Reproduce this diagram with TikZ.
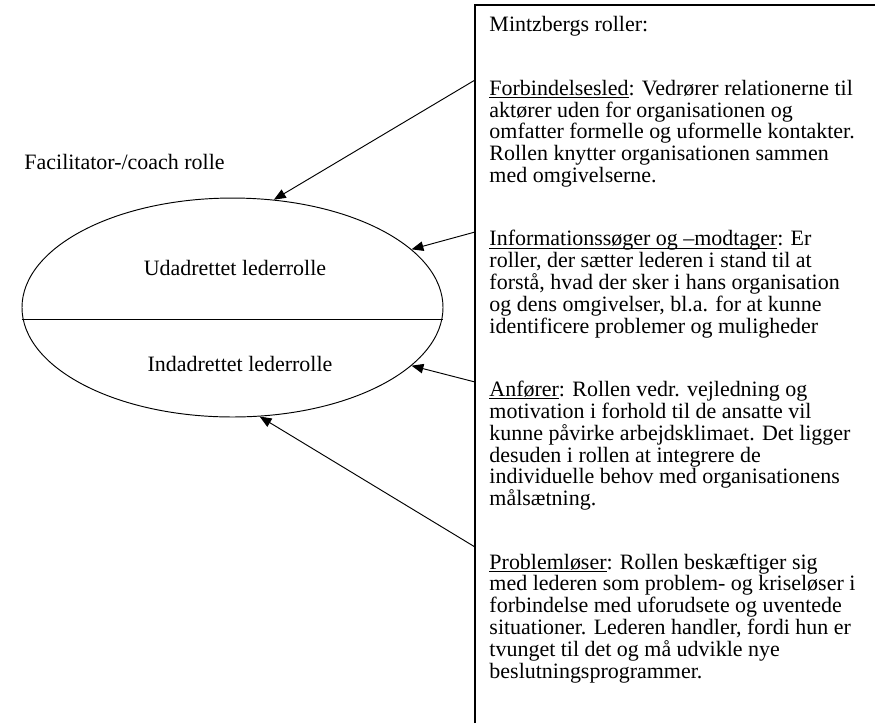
\documentclass[tikz,border=0pt]{standalone}
\usepackage{fontspec}
\setmainfont{Liberation Serif}  % Times
\usetikzlibrary{shapes.geometric,  % ellipse
           arrows.meta,            % pointes de flèches
           positioning}
\newsavebox{\ulbox}
\newcommand{\souligne}[1]{\sbox{\ulbox}{#1}\rlap{\rule[-1.6pt]{\wd\ulbox}{0.6pt}}\usebox{\ulbox}}
\tikzset{fleche/.style={-{Triangle[length=7.5pt,width=6pt]},line width=0.6pt},
         texte/.style={anchor=north west,align=left,inner sep=0pt}}

\begin{document}
\begin{tikzpicture}[x=0.633pt,y=-0.633pt,line width=0.6pt,font=\fontsize{13.9pt}{13.8pt}\selectfont]
\fill[white](0,0)rectangle(875,723);
\useasboundingbox (0,0) rectangle (875,723);
\node[ellipse,draw,inner sep=0pt,minimum width=266.5pt,minimum height=138.6pt](lead)at(232.5,307.5){};
\draw([yshift=-7.3pt]lead.west)--([yshift=-7.3pt]lead.east);
\node[anchor=base](ud)at(235,275){Udadrettet lederrolle};
\node[anchor=base](ind)at(240,371.5){Indadrettet lederrolle};
\node[anchor=base west,inner sep=0pt](fac)at(24,169){Facilitator-/coach rolle};
\draw[line width=1.3pt](475,723)|-(875,5);
\node[texte](roller)at(489,16){Mintzbergs roller:\\[26.4pt]
\souligne{Forbindelsesled}: Vedrører relationerne til\\
aktører uden for organisationen og\\
omfatter formelle og uformelle kontakter.\\
Rollen knytter organisationen sammen\\
med omgivelserne.\\[26.4pt]
\souligne{Informationssøger og –modtager}: Er\\
roller, der sætter lederen i stand til at\\
forstå, hvad der sker i hans organisation\\
og dens omgivelser, bl.a. for at kunne\\
identificere problemer og muligheder\\[26.4pt]
\souligne{Anfører}: Rollen vedr. vejledning og\\
motivation i forhold til de ansatte vil\\
kunne påvirke arbejdsklimaet. Det ligger\\
desuden i rollen at integrere de\\
individuelle behov med organisationens\\
målsætning.\\[26.4pt]
\souligne{Problemløser}: Rollen beskæftiger sig\\
med lederen som problem- og kriseløser i\\
forbindelse med uforudsete og uventede\\
situationer. Lederen handler, fordi hun er\\
tvunget til det og må udvikle nye\\
beslutningsprogrammer.};
\coordinate(a1)at(475,80);
\coordinate(a2)at(475,232);
\coordinate(a3)at(475,382);
\coordinate(a4)at(475,547);
\draw[fleche](a1)--(lead.69);
\draw[fleche](a2)--(lead.18);
\draw[fleche](a3)--(lead.-18);
\draw[fleche](a4)--(lead.-76);
\end{tikzpicture}
\end{document}
